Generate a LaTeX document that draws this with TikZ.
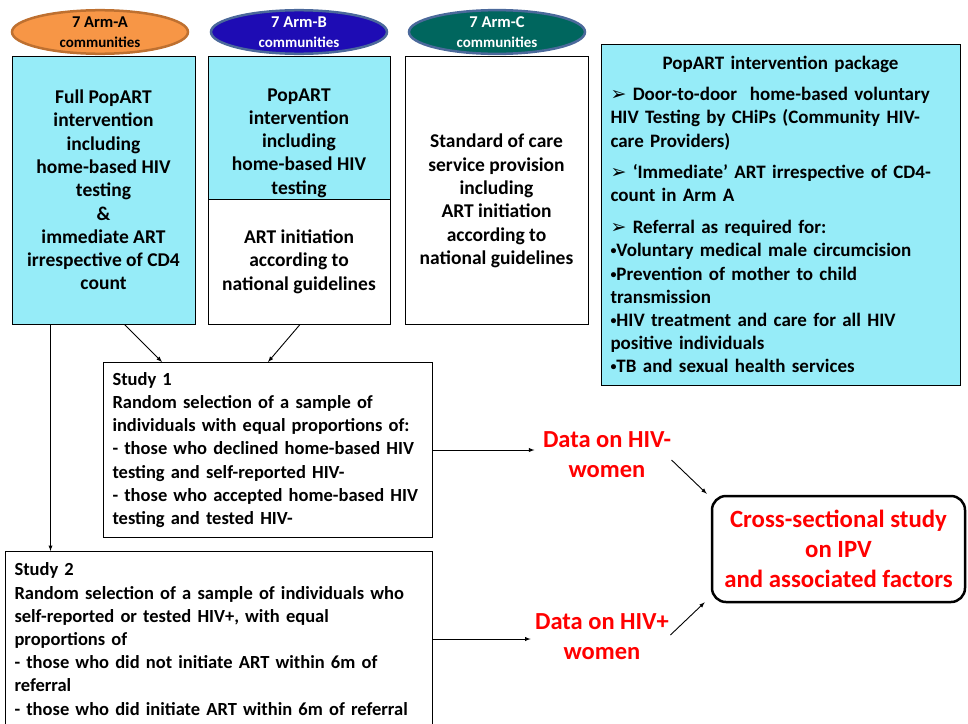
\documentclass[tikz,border=0pt]{standalone}
\usepackage{fontspec}
\setmainfont{Carlito}[BoldFont={Carlito Bold}]
\newfontfamily\symfont{DejaVu Sans}
\usetikzlibrary{shapes.geometric,calc}

% colours
\definecolor{armA}{RGB}{247,150,70}
\definecolor{armAline}{RGB}{190,112,48}
\definecolor{armB}{RGB}{30,12,180}
\definecolor{armC}{RGB}{0,102,94}
\definecolor{armline}{RGB}{75,105,155}
\definecolor{popcyan}{RGB}{150,236,248}
\definecolor{datared}{RGB}{255,0,0}

% small bullet and arrow marks
\newcommand{\pkgdot}{{\fontsize{12}{12}\selectfont\raisebox{2pt}{•}}}
\newcommand{\pkgarrow}{{\symfont\fontsize{19}{19}\selectfont ➢}}

\tikzset{
  arm/.style={ellipse, line width=2.5pt, minimum width=176, minimum height=38,
    inner sep=0pt, align=center, font=\fontsize{15}{20}\selectfont\bfseries},
  armbox/.style={draw, line width=1pt, inner sep=0pt, align=center,
    font=\fontsize{19.5}{23.3}\selectfont\bfseries},
  armtext/.style={inner sep=0pt, align=center, font=\fontsize{19.5}{23.3}\selectfont\bfseries},
  study/.style={draw, line width=1pt, inner xsep=9pt, inner ysep=0pt, anchor=north west,
    align=left, font=\fontsize{18.5}{23.2}\selectfont\bfseries},
  datatext/.style={text=datared, align=center, font=\fontsize{24.5}{30}\selectfont\bfseries},
  link/.style={->, >=latex, line width=0.9pt},
}

\begin{document}
\begin{tikzpicture}[x=1pt,y=-1pt]
    % picture frame
    \useasboundingbox (0,0) rectangle (968,723);
    \clip (0,0) rectangle (968,723);

    % the three arms
    \node[arm, fill=armA, draw=armAline] (armA) at (100,32) {{\fontsize{16.5}{20}\selectfont 7 Arm-A}\\communities};
    \node[arm, fill=armB, draw=armline, text=white] (armB) at (299,32) {{\fontsize{16.5}{20}\selectfont 7 Arm-B}\\communities};
    \node[arm, fill=armC, draw=armline, text=white] (armC) at (497,32) {{\fontsize{16.5}{20}\selectfont 7 Arm-C}\\communities};

    % arm A box
    \node[armbox, fill=popcyan, minimum width=183, minimum height=268] (boxA) at (103.5,190)
      {Full PopART\\intervention\\including\\home-based HIV\\testing\\\&\\immediate ART\\irrespective of CD4\\count};

    % arm B boxes
    \node[armbox, fill=popcyan, minimum width=182, minimum height=143] (boxBtop) at (299,127.5) {};
    \node[armtext] (txtBtop) at (299,143) {PopART\\intervention\\including\\home-based HIV\\testing};
    \node[armbox, fill=white, minimum width=182, minimum height=125] (boxBbot) at (299,261.5)
      {ART initiation\\according to\\national guidelines};

    % arm C box
    \node[armbox, minimum width=183, minimum height=268] (boxC) at (496.5,190) {};
    \node[armtext] (txtC) at (496.5,201)
      {Standard of care\\service provision\\including\\ART initiation\\according to\\national guidelines};

    % intervention package
    \node[draw, line width=1pt, fill=popcyan, minimum width=359, minimum height=341,
      text width=340, inner sep=0pt, align=left,
      font=\fontsize{19}{23.2}\selectfont\bfseries] (package) at (780.5,214.5)
      {\makebox[340pt]{PopART intervention package}\\[8pt]
       \pkgarrow\ Door-to-door\ \ home-based voluntary\\
       HIV Testing by CHiPs (Community HIV-\\
       care Providers)\\[8pt]
       \pkgarrow\ ‘Immediate’ ART irrespective of CD4-\\
       count in Arm A\\[9pt]
       \pkgarrow\ Referral as required for:\\
       \pkgdot Voluntary medical male circumcision\\
       \pkgdot Prevention of mother to child\\
       transmission\\
       \pkgdot HIV treatment and care for all HIV\\
       positive individuals\\
       \pkgdot TB and sexual health services};

    % studies
    \node[study, minimum width=329, minimum height=175, text width=311] (study1) at (103,362)
      {Study 1\\
       Random selection of a sample of\\
       individuals with equal proportions of:\\
       - those who declined home-based HIV\\
       testing and self-reported HIV-\\
       - those who accepted home-based HIV\\
       testing and tested HIV-};
    \node[study, minimum width=427, minimum height=175, text width=409] (study2) at (5,551)
      {Study 2\\
       Random selection of a sample of individuals who\\
       self-reported or tested HIV+, with equal\\
       proportions of\\
       - those who did not initiate ART within 6m of\\
       referral\\
       - those who did initiate ART within 6m of referral};

    % data and outcome
    \node[datatext] (dataneg) at (607,455) {Data on HIV-\\women};
    \node[datatext] (datapos) at (602,637) {Data on HIV+\\women};
    \node[draw, line width=2.5pt, rounded corners=14pt, minimum width=253, minimum height=106,
      text=datared, align=center, font=\fontsize{24.8}{30}\selectfont\bfseries] (cross) at (838.5,549)
      {Cross-sectional study\\on IPV\\and associated factors};

    % connectors
    \coordinate (downA) at ($(boxA.south west)+(39,0)$);
    \draw[link] ($(boxA.south)+(21,0)$) -- ($(study1.north west)+(59,0)$);
    \draw[link] ($(boxBbot.south)+(1,0)$) -- ($(study1.north west)+(165,0)$);
    \draw[link] (downA) -- (downA |- study2.north);
    \draw[link] (study1.east) -- ($(dataneg.west |- study1.east)+(-5,0)$);
    \draw[link] (study2.east) -- ($(datapos.west |- study2.east)+(-1,0)$);
    \draw[link] ($(dataneg.east)+(-3,5)$) -- ($(cross.north west)+(-4,-1)$);
    \draw[link] ($(datapos.east)+(-2,-2)$) -- ($(cross.south west)+(-6,-1)$);

\end{tikzpicture}
\end{document}
